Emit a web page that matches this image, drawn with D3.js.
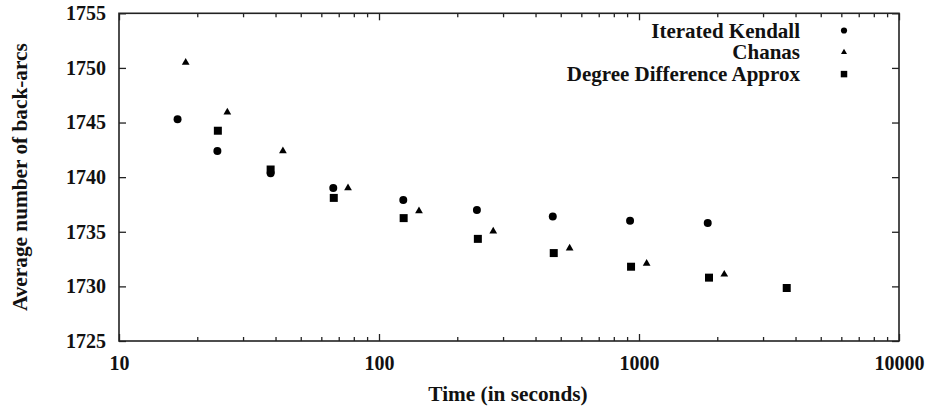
<!DOCTYPE html>
<html>
<head>
<meta charset="utf-8">
<script src="https://cdn.jsdelivr.net/npm/d3@7"></script>
<style>
  body { margin: 0; background: #fff; }
  svg text { font-family: "Liberation Serif", "Times New Roman", serif; font-weight: bold; fill: #111; }
  .axis path { display: none; }
  .axis line { stroke: #222; stroke-width: 1.3; }
</style>
</head>
<body>
<div id="chart"></div>
<script>
// time (seconds) and average back-arcs per method
var kendallTime = [16.8, 23.9, 38.3, 66.7, 124, 238, 466, 924, 1838];
var kendallArcs = [1745.3, 1742.4, 1740.35, 1739.0, 1737.9, 1737.0, 1736.4, 1736.0, 1735.8];

var chanasTime = [18.05, 26.1, 42.7, 76, 142.5, 275, 541, 1070, 2128];
var chanasArcs = [1750.5, 1745.95, 1742.4, 1739.0, 1736.9, 1735.05, 1733.5, 1732.1, 1731.1];

var degreeTime = [24.0, 38.3, 67, 124.4, 240, 470, 932, 1859, 3700];
var degreeArcs = [1744.25, 1740.7, 1738.1, 1736.25, 1734.35, 1733.05, 1731.8, 1730.8, 1729.85];

var seriesNames = ['Iterated Kendall', 'Chanas', 'Degree Difference Approx'];
var xTicks = [10, 100, 1000, 10000];
var yTicks = [1725, 1730, 1735, 1740, 1745, 1750, 1755];

var width = 930, height = 409;
var plotLeft = 119, plotRight = 899, plotTop = 13.3, plotBottom = 341;

var svg = d3.select('#chart').append('svg')
    .attr('width', width)
    .attr('height', height);

var x = d3.scaleLog().domain([10, 10000]).range([plotLeft, plotRight]);
var y = d3.scaleLinear().domain([1725, 1755]).range([plotBottom, plotTop]);

// minor ticks 2..9 in every decade
var minorTicks = [];
[10, 100, 1000].forEach(function(d) {
    for (var m = 2; m <= 9; m++) minorTicks.push(d * m);
});

function addAxis(axis, tx, ty) {
    svg.append('g')
        .attr('class', 'axis')
        .attr('transform', 'translate(' + tx + ',' + ty + ')')
        .call(axis);
}

// bottom
addAxis(d3.axisBottom(x).tickValues(xTicks).tickFormat(d3.format('d'))
    .tickSize(-7).tickPadding(15), 0, plotBottom);
addAxis(d3.axisBottom(x).tickValues(minorTicks).tickFormat('').tickSize(-4), 0, plotBottom);
// top
addAxis(d3.axisTop(x).tickValues(xTicks).tickFormat('').tickSize(-7), 0, plotTop);
addAxis(d3.axisTop(x).tickValues(minorTicks).tickFormat('').tickSize(-4), 0, plotTop);
// left
addAxis(d3.axisLeft(y).tickValues(yTicks).tickFormat(d3.format('d'))
    .tickSize(-7).tickPadding(13), plotLeft, 0);
// right
addAxis(d3.axisRight(y).tickValues(yTicks).tickFormat('').tickSize(-7), plotRight, 0);

svg.selectAll('.axis text')
    .style('font-size', '20px')
    .style('font-family', '"Liberation Serif", serif')
    .style('font-weight', 'bold')
    .attr('fill', '#111');

// frame
svg.append('rect')
    .attr('x', plotLeft).attr('y', plotTop)
    .attr('width', plotRight - plotLeft).attr('height', plotBottom - plotTop)
    .attr('fill', 'none').attr('stroke', '#222').attr('stroke-width', 1.6);

var circleSym = d3.symbol().type(d3.symbolCircle).size(50);
var triSym = d3.symbol().type(d3.symbolTriangle).size(26);
var squareSym = d3.symbol().type(d3.symbolSquare).size(64);

function drawSeries(times, arcs, sym) {
    svg.append('g').selectAll('path')
        .data(times)
        .enter()
        .append('path')
        .attr('d', sym)
        .attr('transform', function(d, i) {
            return 'translate(' + x(d) + ',' + y(arcs[i]) + ')';
        })
        .attr('fill', '#000');
}

drawSeries(kendallTime, kendallArcs, circleSym);
drawSeries(chanasTime, chanasArcs, triSym);
drawSeries(degreeTime, degreeArcs, squareSym);

// legend (markers a bit smaller than in the plot)
var legendSyms = [
    d3.symbol().type(d3.symbolCircle).size(30),
    d3.symbol().type(d3.symbolTriangle).size(16),
    d3.symbol().type(d3.symbolSquare).size(42)
];
var legend = svg.append('g');
seriesNames.forEach(function(name, i) {
    var ly = 30.5 + i * 21.8;
    legend.append('text')
        .attr('x', 800)
        .attr('y', ly)
        .attr('dy', '0.34em')
        .attr('text-anchor', 'end')
        .style('font-size', '21px')
        .text(name);
    legend.append('path')
        .attr('d', legendSyms[i])
        .attr('transform', 'translate(844,' + ly + ')')
        .attr('fill', '#000');
});

// axis titles
svg.append('text')
    .attr('x', 508)
    .attr('y', 401)
    .attr('text-anchor', 'middle')
    .style('font-size', '21.3px')
    .text('Time (in seconds)');

svg.append('text')
    .attr('transform', 'translate(27,' + (plotTop + plotBottom) / 2 + ') rotate(-90)')
    .attr('text-anchor', 'middle')
    .style('font-size', '21.3px')
    .text('Average number of back-arcs');
</script>
</body>
</html>
